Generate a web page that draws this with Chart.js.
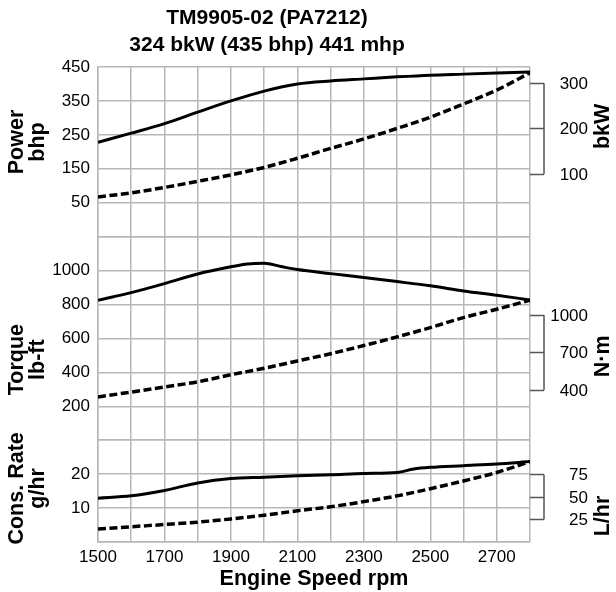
<!DOCTYPE html>
<html>
<head>
<meta charset="utf-8">
<title>TM9905-02 performance curves</title>
<script src="https://cdn.jsdelivr.net/npm/chart.js@4.4.0/dist/chart.umd.min.js"></script>
<style>
  html, body { margin: 0; padding: 0; background: #fff; }
  #wrap { width: 616px; height: 592px; }
</style>
</head>
<body>
<div id="wrap"><canvas id="perfChart" width="616" height="592"></canvas></div>
<script>
const rpm = [1500, 1600, 1700, 1800, 1900, 2000, 2100, 2200, 2300, 2400, 2500, 2600, 2700, 2800];
const torqueRpm = [1500, 1600, 1700, 1800, 1900, 1950, 2000, 2050, 2100, 2200, 2300, 2400, 2500, 2600, 2700, 2800];
const fuelRpm = [1500, 1600, 1700, 1800, 1900, 2000, 2100, 2200, 2300, 2400, 2450, 2500, 2600, 2700, 2800];

// power, bhp
const powerBhp = [228, 255, 283, 317, 350, 379, 400, 409, 415, 421, 426, 429, 432, 435];
const powerProp = [67, 79, 95, 113, 132, 154, 181, 210, 238, 269, 302, 341, 382, 433];

// torque, lb-ft
const torqueLbft = [825, 870, 923, 980, 1022, 1039, 1043, 1024, 1006, 982, 959, 935, 910, 880, 854, 827];
const torqueProp = [255, 284, 314, 344, 386, 424, 467, 510, 558, 609, 664, 723, 772, 826];

// fuel consumption
const fuelRate = [12.9, 13.6, 15.2, 17.4, 18.7, 19.1, 19.5, 19.8, 20.2, 20.5, 21.5, 22.0, 22.5, 23.0, 23.7];
const fuelProp = [3.8, 4.5, 5.15, 5.85, 6.8, 7.9, 9.2, 10.4, 11.9, 13.6, 15.7, 18.0, 20.5, 23.7];

// axis ranges and tick labels
const rpmRange = [1500, 2800];
const rpmLabels = [1500, 1700, 1900, 2100, 2300, 2500, 2700];
const powerRange = [-50, 450];
const powerLabels = [50, 150, 250, 350, 450];
const torqueRange = [0, 1200];
const torqueLabels = [200, 400, 600, 800, 1000];
const fuelRange = [0, 30];
const fuelLabels = [10, 20];
const kwTicks = [100, 200, 300];
const nmTicks = [400, 700, 1000];
const lhrTicks = [25, 50, 75];

const chartTitle = ['TM9905-02 (PA7212)', '324 bkW (435 bhp) 441 mhp'];

const KW_PER_HP = 0.7457;
const NM_PER_LBFT = 1.35582;
const L_PER_GAL = 3.78541;

const FONT = "'Liberation Sans', Arial, sans-serif";
const GRID = '#b7b7b7';

function pts(xs, ys) {
  return xs.map((x, i) => ({ x: x, y: ys[i] }));
}

function solid(data, axis) {
  return { data: data, yAxisID: axis, borderColor: '#000', borderWidth: 3, pointRadius: 0,
    cubicInterpolationMode: 'monotone', fill: false };
}
function dashed(data, axis) {
  return { data: data, yAxisID: axis, borderColor: '#000', borderWidth: 3.5, borderDash: [8, 3.5],
    pointRadius: 0, cubicInterpolationMode: 'monotone', fill: false };
}

function leftAxis(range, step, labels, weight) {
  return {
    type: 'linear', position: 'left', stack: 'left', stackWeight: weight,
    min: range[0], max: range[1],
    grid: { color: GRID, lineWidth: 1.5, drawTicks: false },
    border: { color: GRID, width: 1.5 },
    ticks: {
      stepSize: step, padding: 8, autoSkip: false, color: '#000', font: { family: FONT, size: 17 },
      callback: v => labels.includes(v) ? String(v) : ''
    },
    afterFit: s => { s.width = 98; }
  };
}

// right axes only give the bracket ticks, labels are drawn by the plugin below
function rightAxis(range, factor, list, weight) {
  return {
    type: 'linear', position: 'right', stack: 'right', stackWeight: weight,
    min: range[0] * factor, max: range[1] * factor,
    grid: { drawOnChartArea: false, drawTicks: true, tickLength: 14, tickColor: '#555', tickWidth: 1.5 },
    border: { display: false },
    afterBuildTicks: s => { s.ticks = list.map(v => ({ value: v })); },
    ticks: { display: false },
    afterFit: s => { s.width = 86; }
  };
}

const leftTitles = [
  { axis: 'power', at: 229, lines: ['Power', 'bhp'] },
  { axis: 'torque', at: 475, lines: ['Torque', 'lb-ft'] },
  { axis: 'fuel', at: 15.8, lines: ['Cons. Rate', 'g/hr'] }
];
const rightTitles = [
  { axis: 'kw', at: 205, text: 'bkW', ticks: kwTicks },
  { axis: 'nm', at: 670, text: 'N\u00b7m', ticks: nmTicks },
  { axis: 'lhr', at: 29, text: 'L/hr', ticks: lhrTicks }
];

function rotatedText(ctx, text, x, y) {
  ctx.save();
  ctx.translate(x, y);
  ctx.rotate(-Math.PI / 2);
  ctx.fillText(text, 0, 0);
  ctx.restore();
}

const sideLabels = {
  id: 'sideLabels',
  afterDraw(chart) {
    const ctx = chart.ctx;
    const right = chart.chartArea.right;
    ctx.save();
    ctx.fillStyle = '#000';
    ctx.textAlign = 'center';
    ctx.textBaseline = 'middle';

    // heading, centred a bit left of the plot
    ctx.font = 'bold 21px ' + FONT;
    chartTitle.forEach((line, i) => ctx.fillText(line, 267, 18 + i * 27));

    ctx.font = 'bold 21.5px ' + FONT;
    leftTitles.forEach(t => {
      const y = chart.scales[t.axis].getPixelForValue(t.at);
      t.lines.forEach((line, i) => rotatedText(ctx, line, 17 + i * 21, y));
    });

    rightTitles.forEach(t => {
      const sc = chart.scales[t.axis];
      ctx.font = 'bold 21.5px ' + FONT;
      ctx.textAlign = 'center';
      rotatedText(ctx, t.text, 603, sc.getPixelForValue(t.at));

      // bracket spine
      ctx.strokeStyle = '#555';
      ctx.lineWidth = 1.5;
      ctx.beginPath();
      ctx.moveTo(right + 14, sc.getPixelForValue(t.ticks[0]));
      ctx.lineTo(right + 14, sc.getPixelForValue(t.ticks[t.ticks.length - 1]));
      ctx.stroke();

      // bracket labels
      ctx.font = '17px ' + FONT;
      ctx.textAlign = 'right';
      t.ticks.forEach(v => ctx.fillText(String(v), 588, sc.getPixelForValue(v) + 1));
    });
    ctx.restore();
  }
};

const chart = new Chart(document.getElementById('perfChart'), {
  type: 'line',
  data: {
    datasets: [
      solid(pts(rpm, powerBhp), 'power'),
      dashed(pts(rpm, powerProp), 'power'),
      solid(pts(torqueRpm, torqueLbft), 'torque'),
      dashed(pts(rpm, torqueProp), 'torque'),
      solid(pts(fuelRpm, fuelRate), 'fuel'),
      dashed(pts(rpm, fuelProp), 'fuel')
    ]
  },
  options: {
    responsive: false,
    animation: false,
    layout: { padding: { top: 67 } },
    plugins: {
      legend: { display: false },
      tooltip: { enabled: false },
      title: { display: false }
    },
    scales: {
      x: {
        type: 'linear', min: rpmRange[0], max: rpmRange[1],
        grid: { color: GRID, lineWidth: 1.5, drawTicks: false },
        border: { color: GRID, width: 1.5 },
        ticks: {
          stepSize: 100, padding: 5, maxRotation: 0, autoSkip: false,
          color: '#000', font: { family: FONT, size: 17 },
          callback: v => rpmLabels.includes(v) ? String(v) : ''
        },
        title: {
          display: true, text: 'Engine Speed rpm', color: '#000',
          font: { family: FONT, size: 21.5, weight: 'bold', lineHeight: 1.2 },
          padding: { top: 0, bottom: 0 }
        },
        afterFit: s => { s.height = 50; }
      },
      kw: rightAxis(powerRange, KW_PER_HP, kwTicks, 5),
      nm: rightAxis(torqueRange, NM_PER_LBFT, nmTicks, 6),
      lhr: rightAxis(fuelRange, L_PER_GAL, lhrTicks, 3),
      fuel: leftAxis(fuelRange, 10, fuelLabels, 3),
      torque: leftAxis(torqueRange, 200, torqueLabels, 6),
      power: leftAxis(powerRange, 100, powerLabels, 5)
    }
  },
  plugins: [sideLabels]
});
</script>
</body>
</html>
